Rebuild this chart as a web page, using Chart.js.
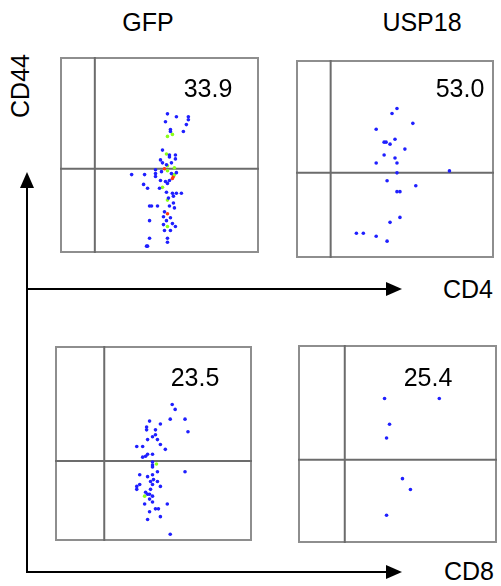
<!DOCTYPE html>
<html>
<head>
<meta charset="utf-8">
<script src="https://cdn.jsdelivr.net/npm/chart.js@4"></script>
<style>
  body { margin: 0; background: #fff; font-family: Arial, "Liberation Sans", sans-serif; }
  #page { position: relative; width: 501px; height: 586px; overflow: hidden; }
  .panel { position: absolute; }
  .panel canvas { display: block; }
  .lbl { position: absolute; font-size: 25px; color: #000; transform: translate(-50%, -50%); white-space: nowrap; line-height: 1; }
  .rot { transform: translate(-50%, -50%) rotate(-90deg); }
</style>
</head>
<body>
<div id="page">
  <svg width="501" height="586" style="position:absolute;left:0;top:0">
    <line x1="27" y1="184" x2="27" y2="573" stroke="#000" stroke-width="2"/>
    <polygon points="27,172 20,188 34,188" fill="#000"/>
    <line x1="26" y1="289" x2="390" y2="289" stroke="#000" stroke-width="2"/>
    <polygon points="402,289 386,282 386,296" fill="#000"/>
    <line x1="26" y1="572" x2="390" y2="572" stroke="#000" stroke-width="2"/>
    <polygon points="402,572 386,565 386,579" fill="#000"/>
  </svg>

  <div class="lbl" style="left:148px;top:22px">GFP</div>
  <div class="lbl" style="left:422px;top:22px">USP18</div>
  <div class="lbl rot" style="left:20px;top:86px">CD44</div>
  <div class="lbl" style="left:468px;top:289px">CD4</div>
  <div class="lbl" style="left:469px;top:571px">CD8</div>

  <div class="panel" style="left:60px;top:57px"><canvas id="gfpCd4" width="199" height="196"></canvas></div>
  <div class="panel" style="left:296px;top:60px"><canvas id="uspCd4" width="198" height="198"></canvas></div>
  <div class="panel" style="left:55px;top:346px"><canvas id="gfpCd8" width="197" height="195"></canvas></div>
  <div class="panel" style="left:298px;top:345px"><canvas id="uspCd8" width="199" height="198"></canvas></div>

  <div class="lbl" style="left:208px;top:88px">33.9</div>
  <div class="lbl" style="left:460px;top:88px">53.0</div>
  <div class="lbl" style="left:195px;top:377px">23.5</div>
  <div class="lbl" style="left:428px;top:377px">25.4</div>
</div>

<script>
// events as [x, y] on a 0-200 channel scale
const gfpCd4Blue = [
  [108,142],[117,139],[129,139],[129,136],[106,134],[127,131],[111,126],[111,124],[124,124],
  [103,105],[110,100],[110,98],[116,100],[116,96],[101,95],[103,92],[107,90],[112,92],
  [72,80],[85,80],[96,85],[96,81],[96,78],[102,83],[112,81],[117,82],[110,74],[101,74],
  [106,73],[108,71],[100,66],[84,70],[88,66],[107,62],[113,61],[117,61],[122,61],[109,56],
  [114,58],[114,51],[90,48],[92,48],[98,48],[110,48],[115,46],[105,42],[104,37],[111,36],
  [90,33],[107,33],[104,29],[113,30],[116,27],[105,23],[111,23],[90,15],[108,15],[108,11],
  [87,7],[88,7]
];
const gfpCd4Green = [[108,119],[113,121],[107,101],[108,89],[115,87],[108,84],[103,67],[108,54],[108,27],[115,80]];
const gfpCd4Red = [[105,86],[114,78],[113,76],[108,40]];

const uspCd4Blue = [
  [102,151],[97,146],[118,136],[81,130],[89,117],[91,117],[100,120],[95,115],[110,110],
  [89,104],[100,101],[81,96],[102,96],[102,86],[155,88],[92,78],[121,73],[102,67],[105,67],
  [105,41],[95,36],[61,25],[68,25],[81,22],[92,17]
];

const gfpCd8Blue = [
  [119,140],[122,135],[117,125],[132,125],[107,120],[96,123],[93,117],[93,114],[102,114],
  [135,112],[102,109],[99,107],[94,104],[104,104],[107,99],[83,97],[89,97],[112,94],[99,89],
  [89,86],[92,87],[94,89],[99,81],[99,78],[99,76],[132,71],[86,68],[99,68],[94,66],[104,71],
  [100,63],[97,61],[104,61],[86,58],[83,56],[83,53],[99,58],[107,56],[97,53],[92,50],[94,48],
  [96,48],[99,46],[96,43],[99,40],[91,38],[114,38],[102,33],[105,33],[96,30],[107,25],[94,22],
  [117,7]
];
const gfpCd8Green = [[103,79],[91,46]];

const uspCd8Blue = [[87,146],[142,146],[92,120],[89,106],[105,65],[113,54],[89,28]];

// quadrant gates [x, y]
const gateGfpCd4 = [35, 86];
const gateUspCd4 = [35, 86];
const gateGfpCd8 = [50, 82];
const gateUspCd8 = [47, 84];

const BLUE = "#1f1fff";
const GREEN = "#8cff1a";
const RED = "#ff3a10";

function quadPlugin(gate) {
  return {
    id: "quad",
    beforeDatasetsDraw(chart) {
      const { ctx, chartArea: a, scales } = chart;
      const gx = scales.x.getPixelForValue(gate[0]);
      const gy = scales.y.getPixelForValue(gate[1]);
      ctx.save();
      ctx.strokeStyle = "#8e8e8e";
      ctx.lineWidth = 2;
      ctx.strokeRect(a.left + 1, a.top + 1, a.width - 2, a.height - 2);
      ctx.strokeStyle = "#6c6c6c";
      ctx.beginPath();
      ctx.moveTo(gx, a.top);
      ctx.lineTo(gx, a.bottom);
      ctx.moveTo(a.left, gy);
      ctx.lineTo(a.right, gy);
      ctx.stroke();
      ctx.restore();
    }
  };
}

function toSet(points, color) {
  return {
    data: points.map(p => ({ x: p[0], y: p[1] })),
    backgroundColor: color,
    borderColor: color,
    pointRadius: 1.8,
    pointBorderWidth: 0
  };
}

function makePanel(id, sets, gate) {
  const canvas = document.getElementById(id);
  new Chart(canvas.getContext("2d"), {
    type: "scatter",
    data: { datasets: sets },
    options: {
      responsive: false,
      animation: false,
      events: [],
      layout: { padding: 0, autoPadding: false },
      plugins: { legend: { display: false }, tooltip: { enabled: false } },
      scales: {
        x: { type: "linear", min: 0, max: 200, display: false },
        y: { type: "linear", min: 0, max: 200, display: false }
      }
    },
    plugins: [quadPlugin(gate)]
  });
}

makePanel("gfpCd4", [toSet(gfpCd4Blue, BLUE), toSet(gfpCd4Green, GREEN), toSet(gfpCd4Red, RED)], gateGfpCd4);
makePanel("uspCd4", [toSet(uspCd4Blue, BLUE)], gateUspCd4);
makePanel("gfpCd8", [toSet(gfpCd8Blue, BLUE), toSet(gfpCd8Green, GREEN)], gateGfpCd8);
makePanel("uspCd8", [toSet(uspCd8Blue, BLUE)], gateUspCd8);
</script>
</body>
</html>
